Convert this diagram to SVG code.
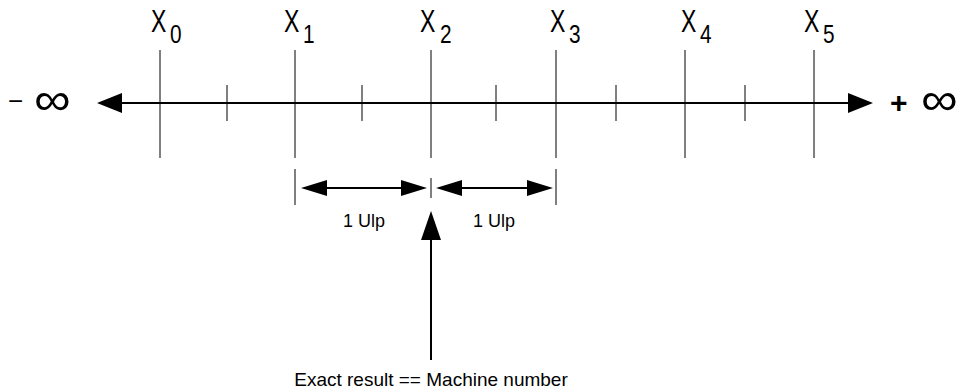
<svg xmlns="http://www.w3.org/2000/svg" width="961" height="390" viewBox="0 0 961 390">
<style>
.thin{stroke:#000;stroke-width:1;fill:none}
.thick{stroke:#000;stroke-width:2;fill:none}
.head{fill:#000;stroke:none}
.lbl{font-family:"Liberation Sans",Arial,sans-serif;fill:#000}
.x{font-size:32px}
.s{font-size:26px}
.sm{font-size:18px}
.inf{font-size:46px}
</style>
<rect width="961" height="390" fill="#fff"/>
<g id="connectors">
<line class="thick" x1="115" y1="103" x2="855" y2="103"/>
<polygon class="head" points="97,103 122,93 122,113"/>
<polygon class="head" points="873,103 848,93 848,113"/>
<line class="thick" x1="318" y1="188" x2="410" y2="188"/>
<polygon class="head" points="301,188 327,180 327,196"/>
<polygon class="head" points="427,188 401,180 401,196"/>
<line class="thick" x1="452" y1="188" x2="535" y2="188"/>
<polygon class="head" points="436,188 462,180 462,196"/>
<polygon class="head" points="553,188 527,180 527,196"/>
<line class="thick" x1="431" y1="230" x2="431" y2="360"/>
<polygon class="head" points="431,211 421,240 441,240"/>
</g>
<g id="ticks">
<line class="thin" x1="160" y1="50" x2="160" y2="158"/>
<line class="thin" x1="295" y1="50" x2="295" y2="158"/>
<line class="thin" x1="431" y1="50" x2="431" y2="158"/>
<line class="thin" x1="556" y1="50" x2="556" y2="158"/>
<line class="thin" x1="685" y1="50" x2="685" y2="158"/>
<line class="thin" x1="814" y1="50" x2="814" y2="158"/>
<line class="thin" x1="227" y1="85" x2="227" y2="121"/>
<line class="thin" x1="362" y1="85" x2="362" y2="121"/>
<line class="thin" x1="496" y1="85" x2="496" y2="121"/>
<line class="thin" x1="616" y1="85" x2="616" y2="121"/>
<line class="thin" x1="745" y1="85" x2="745" y2="121"/>
<line class="thin" x1="295" y1="169" x2="295" y2="205"/>
<line class="thin" x1="431" y1="178" x2="431" y2="198"/>
<line class="thin" x1="556" y1="169" x2="556" y2="205"/>
</g>
<g id="labels">
<g id="x0"><text class="lbl x" transform="translate(151,32) scale(0.72,1)">X</text><text class="lbl s" transform="translate(170,43) scale(0.8,1)">0</text></g>
<g id="x1"><text class="lbl x" transform="translate(284,32) scale(0.72,1)">X</text><text class="lbl s" transform="translate(303,43) scale(0.8,1)">1</text></g>
<g id="x2"><text class="lbl x" transform="translate(420,32) scale(0.72,1)">X</text><text class="lbl s" transform="translate(440,43) scale(0.8,1)">2</text></g>
<g id="x3"><text class="lbl x" transform="translate(550,32) scale(0.72,1)">X</text><text class="lbl s" transform="translate(569,43) scale(0.8,1)">3</text></g>
<g id="x4"><text class="lbl x" transform="translate(681,32) scale(0.72,1)">X</text><text class="lbl s" transform="translate(700,43) scale(0.8,1)">4</text></g>
<g id="x5"><text class="lbl x" transform="translate(804,32) scale(0.72,1)">X</text><text class="lbl s" transform="translate(823,43) scale(0.8,1)">5</text></g>
<g id="neginf"><text class="lbl" x="8" y="110" font-size="26">−</text><text class="lbl inf" transform="translate(34,115) scale(1.12,1)">∞</text></g>
<g id="posinf"><text class="lbl" x="890" y="113" font-size="30" font-weight="bold">+</text><text class="lbl inf" transform="translate(921,115) scale(1.12,1)">∞</text></g>
<text class="lbl sm" x="364" y="227" text-anchor="middle">1 Ulp</text>
<text class="lbl sm" x="494" y="227" text-anchor="middle">1 Ulp</text>
<text class="lbl" x="431" y="386" font-size="19" text-anchor="middle">Exact result == Machine number</text>
</g>
</svg>
